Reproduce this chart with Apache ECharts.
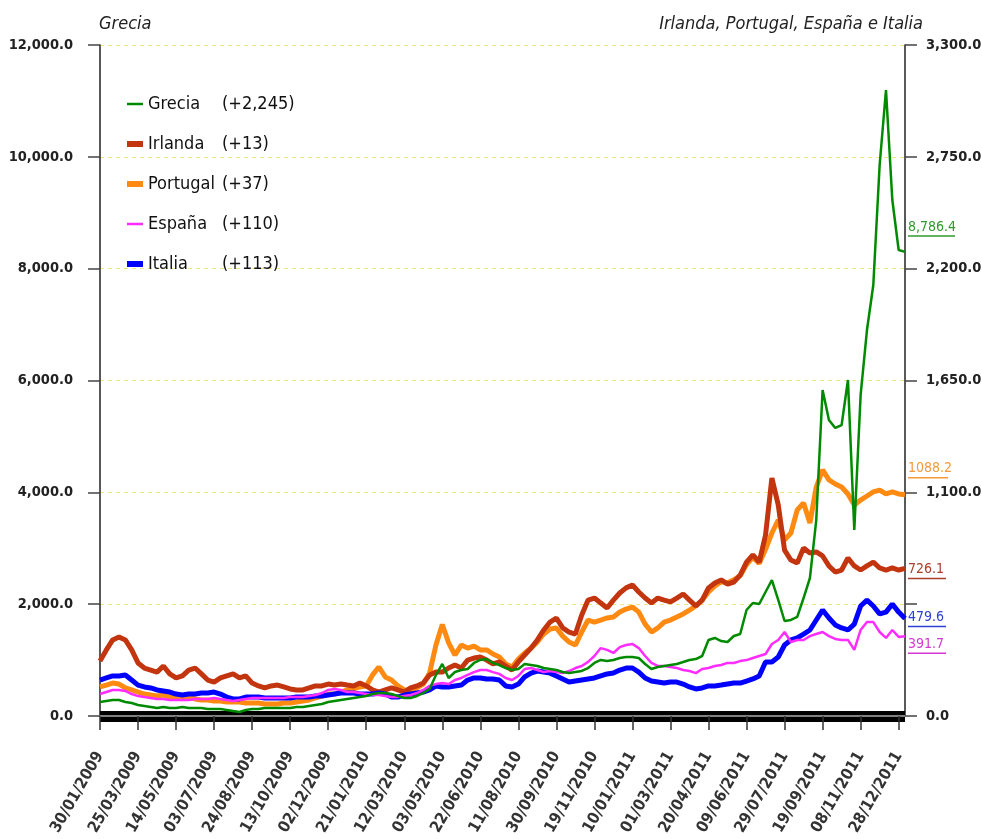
<!DOCTYPE html>
<html>
<head>
<meta charset="utf-8">
<script src="https://cdn.jsdelivr.net/npm/echarts@6/dist/echarts.min.js"></script>
<style>
html, body { margin: 0; padding: 0; background: #fff; }
#main { width: 982px; height: 839px; }
</style>
</head>
<body>
<div id="main"></div>
<script>
// x axis tick labels, one every 6 points
var tickLabels = ['30/01/2009', '25/03/2009', '14/05/2009', '03/07/2009', '24/08/2009', '13/10/2009',
  '02/12/2009', '21/01/2010', '12/03/2010', '03/05/2010', '22/06/2010', '11/08/2010', '30/09/2010',
  '19/11/2010', '10/01/2011', '01/03/2011', '20/04/2011', '09/06/2011', '29/07/2011', '19/09/2011',
  '08/11/2011', '28/12/2011'];

// Grecia, left axis
var grecia = [250,268,286,286,250,232,197,179,161,143,
  161,143,143,161,143,143,143,125,125,125,
  107,89,72,107,125,125,143,143,143,143,
  143,161,161,179,197,215,250,268,286,304,
  322,340,358,393,411,411,393,358,322,322,
  358,411,483,733,930,680,787,823,841,948,
  1002,1019,948,912,858,823,841,930,912,894,
  858,841,823,787,769,787,805,858,948,1002,
  984,1002,1037,1055,1055,1037,930,841,876,894,
  912,930,966,1002,1019,1073,1359,1395,1341,1323,
  1431,1466,1896,2021,2003,2218,2432,2075,1699,1717,
  1771,2110,2468,3505,5830,5294,5151,5204,6009,3326,
  5741,6903,7708,9854,11195,9228,8334,8300];

// right axis series
var irlanda = [270,325,374,389,374,325,261,236,226,216,
  246,207,187,197,226,236,207,177,167,187,
  197,207,187,197,162,148,138,148,152,143,
  133,128,128,138,148,148,157,152,157,152,
  148,162,148,128,118,128,138,128,118,138,
  148,162,202,216,216,236,251,236,275,285,
  290,275,256,266,246,226,266,300,334,374,
  423,462,482,433,413,403,497,570,580,556,
  531,570,605,630,644,610,580,556,580,570,
  561,580,600,570,541,570,630,654,669,649,
  659,693,757,792,757,890,1170,1038,816,767,
  752,826,802,807,787,738,708,718,777,738,
  718,738,757,728,718,728,718,726];

var portugal = [143,152,162,157,138,128,118,108,103,98,
  103,93,89,89,93,84,79,79,74,74,
  69,69,69,64,64,64,59,59,59,64,
  64,69,74,79,89,98,108,108,118,128,
  133,143,148,202,241,192,177,148,128,128,
  138,157,211,349,450,360,300,349,334,344,
  325,325,305,290,256,241,280,310,334,364,
  403,428,433,393,364,349,413,472,462,472,
  482,487,511,526,536,511,452,413,433,462,
  472,487,502,521,541,570,610,640,660,655,
  670,690,745,780,750,820,900,964,866,900,
  1013,1048,949,1126,1210,1161,1141,1126,1092,1038,
  1062,1082,1102,1111,1092,1102,1092,1088];

var espana = [108,118,128,128,123,108,98,93,89,84,
  84,79,79,79,79,84,84,84,89,84,
  79,74,79,84,89,89,89,89,89,89,
  93,93,93,98,103,113,128,133,128,118,
  118,113,108,103,103,98,93,93,98,103,
  113,128,148,157,162,157,177,187,202,216,
  226,226,216,207,187,177,197,231,236,226,
  216,221,216,211,221,236,246,266,295,334,
  325,310,339,349,354,334,295,261,246,246,
  241,236,226,221,211,231,236,246,251,261,
  261,270,275,285,295,305,354,374,413,364,
  374,374,393,403,413,393,379,374,374,325,
  423,462,462,413,384,423,389,392];

var italia = [177,187,197,197,202,177,152,143,138,128,
  123,118,108,103,108,108,113,113,118,108,
  93,84,84,93,93,93,89,89,89,89,
  89,93,93,93,98,98,103,108,113,113,
  113,108,108,108,113,108,93,93,103,108,
  113,118,128,148,143,143,148,152,177,187,
  187,182,182,177,148,143,157,192,211,221,
  216,211,197,182,167,172,177,182,187,197,
  207,211,226,236,236,216,187,172,167,162,
  167,167,157,143,133,138,148,148,152,157,
  162,162,172,182,197,266,266,290,349,374,
  384,403,423,472,521,482,448,433,423,452,
  541,570,541,502,511,551,511,480];

var names = ['Grecia', 'Irlanda', 'Portugal', 'España', 'Italia'];
var legendChanges = ['(+2,245)', '(+13)', '(+37)', '(+110)', '(+113)'];
var endLabels = ['8,786.4', '726.1', '1088.2', '391.7', '479.6'];

var FONT = "'DejaVu Sans Condensed', 'Liberation Sans', sans-serif";
var colors = ['#008a00', '#c2350f', '#ff8a12', '#ff2cff', '#0000ff'];
var labelColors = ['#2f9a2f', '#a8402a', '#f59a3a', '#d23ad2', '#3040d0'];

var cats = grecia.map(function (v, i) { return String(i); });

function fmt(v) {
  return v.toLocaleString('en-US', { minimumFractionDigits: 1, maximumFractionDigits: 1 });
}

function makeSeries(idx, data, axis, width, z, dy, ulw) {
  return {
    name: names[idx],
    type: 'line',
    data: data,
    yAxisIndex: axis,
    symbol: 'none',
    z: z,
    color: colors[idx],
    lineStyle: { width: width, color: colors[idx] },
    endLabel: {
      show: true,
      distance: 3,
      offset: [0, dy],
      formatter: '{t|' + endLabels[idx] + '}\n{u| }',
      rich: {
        t: { color: labelColors[idx], fontSize: 14, fontFamily: FONT, lineHeight: 16 },
        u: { backgroundColor: labelColors[idx], height: 1.5, width: ulw, fontSize: 1, lineHeight: 2 }
      }
    }
  };
}

var thin = 'path://M0,0h16v2.5h-16z';
var thick = 'path://M0,0h16v6h-16z';

var chart = echarts.init(document.getElementById('main'));
chart.setOption({
  animation: false,
  backgroundColor: '#fff',
  title: [
    { text: 'Grecia', left: 94, top: 10,
      textStyle: { fontStyle: 'italic', fontWeight: 'normal', fontSize: 18, fontFamily: FONT, color: '#222' } },
    { text: 'Irlanda, Portugal, España e Italia', right: 54, top: 10,
      textStyle: { fontStyle: 'italic', fontWeight: 'normal', fontSize: 18, fontFamily: FONT, color: '#222' } }
  ],
  legend: {
    orient: 'vertical',
    left: 127,
    top: 95,
    padding: 0,
    itemGap: 22,
    itemWidth: 16,
    itemHeight: 14,
    data: [
      { name: 'Grecia', icon: thin },
      { name: 'Irlanda', icon: thick },
      { name: 'Portugal', icon: thick },
      { name: 'España', icon: thin },
      { name: 'Italia', icon: thick }
    ],
    formatter: function (name) {
      return '{n|' + name + '}{v|' + legendChanges[names.indexOf(name)] + '}';
    },
    textStyle: {
      fontFamily: FONT, fontSize: 18, color: '#111',
      rich: {
        n: { width: 74, fontFamily: FONT, fontSize: 18, color: '#111' },
        v: { fontFamily: FONT, fontSize: 18, color: '#111' }
      }
    }
  },
  grid: { left: 100, right: 77, top: 45, bottom: 123, outerBoundsMode: 'none' },
  xAxis: [{
    type: 'category',
    data: cats,
    boundaryGap: false,
    position: 'bottom',
    offset: 6,
    axisLine: { lineStyle: { color: '#000', width: 11, cap: 'butt' } },
    axisTick: { interval: 5, length: 14, lineStyle: { color: '#333', width: 1.5 } },
    axisLabel: {
      interval: 5, rotate: 60, margin: 31,
      formatter: function (v, i) { return tickLabels[i / 6] || ''; },
      fontFamily: FONT, fontSize: 16, fontWeight: 'bold', color: '#333'
    },
    splitLine: { show: false }
  }, {
    type: 'category',
    data: cats,
    boundaryGap: false,
    position: 'top',
    axisLine: { lineStyle: { color: '#808080', width: 2 } },
    axisTick: { show: false },
    axisLabel: { show: false }
  }],
  yAxis: [{
    type: 'value', min: 0, max: 12000, interval: 2000, position: 'left',
    axisLine: { show: true, lineStyle: { color: '#222', width: 1.5 } },
    axisTick: { show: true, length: 12, lineStyle: { color: '#444', width: 1.5 } },
    axisLabel: { formatter: fmt, margin: 27, fontFamily: FONT, fontSize: 14.5, fontWeight: 'bold', color: '#222' },
    splitLine: { show: true, lineStyle: { type: [4, 4], color: '#f0e67a', width: 1 } }
  }, {
    type: 'value', min: 0, max: 3300, interval: 550, position: 'right',
    axisLine: { show: true, lineStyle: { color: '#222', width: 1.5 } },
    axisTick: { show: true, length: 12, lineStyle: { color: '#444', width: 1.5 } },
    axisLabel: {
      formatter: function (v) { return v === 550 ? '' : fmt(v); },
      margin: 21, fontFamily: FONT, fontSize: 14.5, fontWeight: 'bold', color: '#222'
    },
    splitLine: { show: false }
  }],
  series: [
    makeSeries(2, portugal, 1, 5, 2, -25, 40),
    makeSeries(1, irlanda, 1, 5, 3, 2, 38),
    makeSeries(4, italia, 1, 5, 4, 0, 38),
    makeSeries(3, espana, 1, 2.5, 5, 9, 38),
    makeSeries(0, grecia, 0, 2.5, 6, -24, 47)
  ]
});
</script>
</body>
</html>
